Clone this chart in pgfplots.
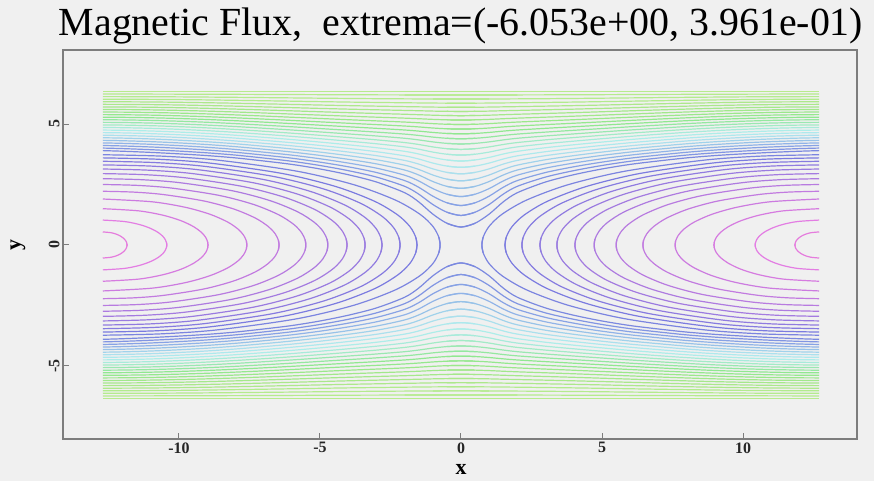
\documentclass[border=0pt]{standalone}
\usepackage{pgfplots}
\pgfplotsset{compat=1.18}
\usepackage{pgfplotstable}
\usepackage{fontspec}
\setmainfont{Liberation Serif}
\definecolor{bgc}{RGB}{240,240,240}
\definecolor{axc}{RGB}{125,125,125}
\definecolor{c1}{Hsb}{305,0.46,0.90}
\definecolor{c2}{Hsb}{300,0.45,0.89}
\definecolor{c3}{Hsb}{294,0.45,0.88}
\definecolor{c4}{Hsb}{288,0.45,0.88}
\definecolor{c5}{Hsb}{282,0.45,0.88}
\definecolor{c6}{Hsb}{276,0.45,0.88}
\definecolor{c7}{Hsb}{270,0.45,0.88}
\definecolor{c8}{Hsb}{264,0.45,0.88}
\definecolor{c9}{Hsb}{258,0.45,0.88}
\definecolor{c10}{Hsb}{252,0.45,0.88}
\definecolor{c11}{Hsb}{246,0.45,0.88}
\definecolor{c12}{Hsb}{240,0.45,0.88}
\definecolor{c13}{Hsb}{235,0.45,0.88}
\definecolor{c14}{Hsb}{232,0.45,0.88}
\definecolor{c15}{Hsb}{228,0.43,0.89}
\definecolor{c16}{Hsb}{223,0.41,0.90}
\definecolor{c17}{Hsb}{216,0.38,0.91}
\definecolor{c18}{Hsb}{208,0.35,0.91}
\definecolor{c19}{Hsb}{200,0.32,0.92}
\definecolor{c20}{Hsb}{192,0.28,0.93}
\definecolor{c21}{Hsb}{184,0.27,0.93}
\definecolor{c22}{Hsb}{176,0.27,0.93}
\definecolor{c23}{Hsb}{165,0.29,0.92}
\definecolor{c24}{Hsb}{150,0.31,0.92}
\definecolor{c25}{Hsb}{138,0.34,0.91}
\definecolor{c26}{Hsb}{128,0.36,0.91}
\definecolor{c27}{Hsb}{120,0.38,0.91}
\definecolor{c28}{Hsb}{115,0.39,0.91}
\definecolor{c29}{Hsb}{110,0.40,0.91}
\definecolor{c30}{Hsb}{106,0.40,0.91}
\definecolor{c31}{Hsb}{103,0.40,0.91}
\definecolor{c32}{Hsb}{100,0.40,0.91}
\definecolor{c33}{Hsb}{98,0.40,0.91}
\definecolor{c34}{Hsb}{96,0.40,0.92}
\definecolor{c35}{Hsb}{95,0.40,0.92}
\definecolor{c36}{Hsb}{94,0.40,0.92}
\definecolor{c37}{Hsb}{93,0.40,0.92}

% ---- closed contours (upper-right quarter of the right island, plus one point past the vertex)
\pgfplotstableread{
x y
11.843 -0.047
11.84 0
11.843 0.047
11.859 0.112
11.892 0.185
11.955 0.270
12.061 0.361
12.207 0.442
12.406 0.507
12.7 0.54
}\ClA
\pgfplotstableread{
x y
10.439 -0.090
10.43 0
10.439 0.090
10.480 0.214
10.567 0.352
10.734 0.515
11.013 0.689
11.398 0.844
11.924 0.968
12.7 1.03
}\ClB
\pgfplotstableread{
x y
8.984 -0.131
8.97 0
8.984 0.131
9.051 0.312
9.195 0.513
9.470 0.750
9.928 1.004
10.561 1.229
11.424 1.410
12.7 1.50
}\ClC
\pgfplotstableread{
x y
7.610 -0.166
7.59 0
7.610 0.166
7.702 0.395
7.898 0.650
8.275 0.950
8.903 1.271
9.769 1.556
10.952 1.785
12.7 1.90
}\ClD
\pgfplotstableread{
x y
6.474 -0.194
6.45 0
6.474 0.194
6.587 0.462
6.827 0.759
7.287 1.110
8.055 1.486
9.115 1.819
10.562 2.086
11.615 2.186
12.7 2.22
}\ClE
\pgfplotstableread{
x y
5.527 -0.218
5.50 0
5.527 0.218
5.657 0.520
5.934 0.855
6.465 1.250
7.349 1.673
8.570 2.048
10.238 2.349
11.450 2.462
12.7 2.50
}\ClF
\pgfplotstableread{
x y
4.750 -0.239
4.72 0
4.750 0.239
4.894 0.570
5.201 0.937
5.789 1.370
6.770 1.833
8.123 2.245
9.971 2.575
11.314 2.698
12.7 2.74
}\ClG
\pgfplotstableread{
x y
4.073 -0.257
4.04 0
4.073 0.257
4.229 0.613
4.562 1.009
5.200 1.475
6.264 1.974
7.733 2.417
9.738 2.772
11.196 2.905
12.7 2.95
}\ClH
\pgfplotstableread{
x y
3.435 -0.274
3.40 0
3.435 0.274
3.603 0.653
3.961 1.074
4.646 1.570
5.789 2.101
7.366 2.572
9.519 2.951
11.085 3.092
12.7 3.14
}\ClI
\pgfplotstableread{
x y
2.838 -0.289
2.80 0
2.838 0.289
3.016 0.688
3.397 1.132
4.126 1.655
5.343 2.215
7.022 2.711
9.314 3.110
10.981 3.260
12.7 3.31
}\ClJ
\pgfplotstableread{
x y
2.200 -0.302
2.16 0
2.200 0.302
2.390 0.719
2.796 1.183
3.572 1.730
4.867 2.315
6.655 2.834
9.095 3.251
10.870 3.407
12.7 3.46
}\ClK
\pgfplotstableread{
x y
1.602 -0.314
1.56 0
1.602 0.314
1.803 0.749
2.232 1.231
3.052 1.800
4.421 2.409
6.310 2.949
8.890 3.383
10.766 3.545
12.7 3.60
}\ClL
\pgfplotstableread{
x y
0.786 -0.325
0.74 0
0.786 0.325
1.001 0.776
1.461 1.276
2.342 1.865
3.812 2.496
5.840 3.055
8.609 3.505
10.623 3.673
12.7 3.73
}\ClM

% ---- open contours (upper-right half, plus one point past x=0)
\pgfplotstableread{
x y
-0.5 0.898
0 0.740
0.5 0.898
1 1.277
1.5 1.783
2 2.162
3 2.604
4 2.905
5 3.142
6 3.331
7 3.473
8 3.600
9 3.695
10 3.767
11 3.827
12 3.875
12.7 3.900
}\OpA
\pgfplotstableread{
x y
-0.5 1.354
0 1.220
0.5 1.354
1 1.675
1.5 2.103
2 2.426
3 2.808
4 3.073
5 3.286
6 3.460
7 3.595
8 3.716
9 3.809
10 3.881
11 3.939
12 3.984
12.7 4.006
}\OpB
\pgfplotstableread{
x y
-0.5 1.744
0 1.630
0.5 1.744
1 2.019
1.5 2.386
2 2.663
3 2.996
4 3.232
5 3.425
6 3.588
7 3.716
8 3.832
9 3.924
10 3.995
11 4.051
12 4.093
12.7 4.113
}\OpC
\pgfplotstableread{
x y
-0.5 2.098
0 2.000
0.5 2.098
1 2.332
1.5 2.647
2 2.886
3 3.177
4 3.387
5 3.564
6 3.714
7 3.837
8 3.949
9 4.037
10 4.107
11 4.162
12 4.201
12.7 4.219
}\OpD
\pgfplotstableread{
x y
-0.5 2.423
0 2.340
0.5 2.423
1 2.624
1.5 2.893
2 3.099
3 3.353
4 3.541
5 3.702
6 3.842
7 3.959
8 4.065
9 4.151
10 4.219
11 4.272
12 4.309
12.7 4.325
}\OpE
\pgfplotstableread{
x y
-0.5 2.721
0 2.650
0.5 2.721
1 2.893
1.5 3.123
2 3.301
3 3.524
4 3.693
5 3.840
6 3.970
7 4.081
8 4.183
9 4.266
10 4.332
11 4.383
12 4.418
12.7 4.432
}\OpF
\pgfplotstableread{
x y
-0.5 3.001
0 2.940
0.5 3.001
1 3.147
1.5 3.344
2 3.496
3 3.692
4 3.843
5 3.978
6 4.099
7 4.203
8 4.300
9 4.380
10 4.444
11 4.493
12 4.525
12.7 4.538
}\OpG
\pgfplotstableread{
x y
-0.5 3.261
0 3.210
0.5 3.261
1 3.386
1.5 3.554
2 3.685
3 3.856
4 3.992
5 4.115
6 4.227
7 4.326
8 4.418
9 4.494
10 4.555
11 4.602
12 4.633
12.7 4.644
}\OpH
\pgfplotstableread{
x y
-0.5 3.513
0 3.470
0.5 3.513
1 3.619
1.5 3.761
2 3.872
3 4.021
4 4.142
5 4.254
6 4.358
7 4.450
8 4.536
9 4.609
10 4.667
11 4.712
12 4.740
12.7 4.750
}\OpI
\pgfplotstableread{
x y
-0.5 3.751
0 3.715
0.5 3.751
1 3.840
1.5 3.960
2 4.055
3 4.184
4 4.292
5 4.393
6 4.489
7 4.576
8 4.656
9 4.725
10 4.780
11 4.822
12 4.848
12.7 4.857
}\OpJ
\pgfplotstableread{
x y
-0.5 3.980
0 3.950
0.5 3.980
1 4.054
1.5 4.154
2 4.234
3 4.346
4 4.441
5 4.533
6 4.621
7 4.701
8 4.776
9 4.840
10 4.892
11 4.931
12 4.955
12.7 4.963
}\OpK
\pgfplotstableread{
x y
-0.5 4.200
0 4.175
0.5 4.200
1 4.261
1.5 4.343
2 4.411
3 4.506
4 4.591
5 4.673
6 4.753
7 4.826
8 4.896
9 4.955
10 5.004
11 5.040
12 5.062
12.7 5.069
}\OpL
\pgfplotstableread{
x y
-0.5 4.410
0 4.390
0.5 4.410
1 4.460
1.5 4.528
2 4.584
3 4.666
4 4.740
5 4.813
6 4.886
7 4.953
8 5.017
9 5.072
10 5.116
11 5.150
12 5.170
12.7 5.176
}\OpM
\pgfplotstableread{
x y
-0.5 4.611
0 4.595
0.5 4.611
1 4.652
1.5 4.707
2 4.753
3 4.822
4 4.887
5 4.952
6 5.017
7 5.079
8 5.137
9 5.187
10 5.228
11 5.258
12 5.277
12.7 5.282
}\OpN
\pgfplotstableread{
x y
-0.5 4.803
0 4.790
0.5 4.803
1 4.835
1.5 4.880
2 4.917
3 4.976
4 5.032
5 5.090
6 5.148
7 5.204
8 5.256
9 5.302
10 5.339
11 5.367
12 5.383
12.7 5.388
}\OpO
\pgfplotstableread{
x y
-0.5 4.990
0 4.980
0.5 4.990
1 5.016
1.5 5.051
2 5.081
3 5.130
4 5.178
5 5.229
6 5.280
7 5.330
8 5.377
9 5.418
10 5.451
11 5.476
12 5.491
12.7 5.495
}\OpP
\pgfplotstableread{
x y
-0.5 5.173
0 5.165
0.5 5.173
1 5.192
1.5 5.219
2 5.243
3 5.283
4 5.324
5 5.368
6 5.412
7 5.456
8 5.497
9 5.533
10 5.563
11 5.585
12 5.597
12.7 5.601
}\OpQ
\pgfplotstableread{
x y
-0.5 5.351
0 5.345
0.5 5.351
1 5.365
1.5 5.385
2 5.404
3 5.436
4 5.470
5 5.507
6 5.545
7 5.582
8 5.617
9 5.649
10 5.674
11 5.693
12 5.704
12.7 5.707
}\OpR
\pgfplotstableread{
x y
-0.5 5.524
0 5.520
0.5 5.524
1 5.534
1.5 5.549
2 5.562
3 5.588
4 5.615
5 5.645
6 5.677
7 5.708
8 5.738
9 5.764
10 5.786
11 5.802
12 5.811
12.7 5.813
}\OpS
\pgfplotstableread{
x y
-0.5 5.693
0 5.690
0.5 5.693
1 5.700
1.5 5.710
2 5.719
3 5.739
4 5.760
5 5.784
6 5.810
7 5.835
8 5.859
9 5.880
10 5.898
11 5.911
12 5.918
12.7 5.920
}\OpT
\pgfplotstableread{
x y
-0.5 5.862
0 5.860
0.5 5.862
1 5.866
1.5 5.872
2 5.878
3 5.892
4 5.907
5 5.925
6 5.944
7 5.962
8 5.980
9 5.996
10 6.010
11 6.019
12 6.025
12.7 6.026
}\OpU
\pgfplotstableread{
x y
-1 6.033
0 6.030
1 6.033
2 6.040
3 6.047
4 6.057
5 6.068
6 6.080
7 6.092
8 6.103
9 6.113
10 6.122
11 6.128
12 6.131
12.7 6.132
}\OpV
\pgfplotstableread{
x y
-2 6.203
0 6.200
2 6.203
4 6.209
6 6.218
8 6.227
10 6.234
12 6.239
12.7 6.239
}\OpW
\pgfplotstableread{
x y
-1 6.345
0 6.345
12.7 6.345
}\OpX

\newcommand{\qp}[2]{%
  \addplot[#1] table {#2};
  \addplot[#1] table[x expr=-\thisrow{x}] {#2};
  \addplot[#1] table[y expr=-\thisrow{y}] {#2};
  \addplot[#1] table[x expr=-\thisrow{x}, y expr=-\thisrow{y}] {#2};
}

\begin{document}
\begin{tikzpicture}
\fill[bgc] (0,0) rectangle (874bp,481bp);
\begin{axis}[
  at={(63bp,42bp)}, anchor=south west,
  scale only axis, width=794bp, height=389bp,
  xmin=-14.11, xmax=14.04, ymin=-8.02, ymax=8.06,
  axis line style={axc, line width=1.3bp},
  tick pos=left, tick align=inside, major tick length=6bp,
  tick style={axc, line width=1bp},
  xtick={-10,-5,0,5,10}, xticklabels={-10,-5,0,5,10},
  ytick={-5,0,5}, yticklabels={-5,0,5},
  ticklabel style={font=\fontsize{16}{16}\selectfont\bfseries, text=black!85},
  yticklabel style={rotate=90, anchor=south},
  every axis plot/.append style={smooth, line width=1.2bp, no markers},
]
\qp{c1}{\ClA}
\qp{c2}{\ClB}
\qp{c3}{\ClC}
\qp{c4}{\ClD}
\qp{c5}{\ClE}
\qp{c6}{\ClF}
\qp{c7}{\ClG}
\qp{c8}{\ClH}
\qp{c9}{\ClI}
\qp{c10}{\ClJ}
\qp{c11}{\ClK}
\qp{c12}{\ClL}
\qp{c13}{\ClM}
\qp{c14}{\OpA}
\qp{c15}{\OpB}
\qp{c16}{\OpC}
\qp{c17}{\OpD}
\qp{c18}{\OpE}
\qp{c19}{\OpF}
\qp{c20}{\OpG}
\qp{c21}{\OpH}
\qp{c22}{\OpI}
\qp{c23}{\OpJ}
\qp{c24}{\OpK}
\qp{c25}{\OpL}
\qp{c26}{\OpM}
\qp{c27}{\OpN}
\qp{c28}{\OpO}
\qp{c29}{\OpP}
\qp{c30}{\OpQ}
\qp{c31}{\OpR}
\qp{c32}{\OpS}
\qp{c33}{\OpT}
\qp{c34}{\OpU}
\qp{c35}{\OpV}
\qp{c36}{\OpW}
\qp{c37}{\OpX}
\end{axis}
\node[anchor=base, font=\fontsize{40}{44}\selectfont] at (461bp,445bp) {Magnetic Flux,\ \ extrema=(-6.053e+00, 3.961e-01)};
\node[font=\fontsize{22}{22}\selectfont\bfseries] at (461bp,12bp) {x};
\node[rotate=90, font=\fontsize{22}{22}\selectfont\bfseries] at (18bp,236bp) {y};
\pgfresetboundingbox
\useasboundingbox (0,0) rectangle (874bp,481bp);
\end{tikzpicture}
\end{document}
